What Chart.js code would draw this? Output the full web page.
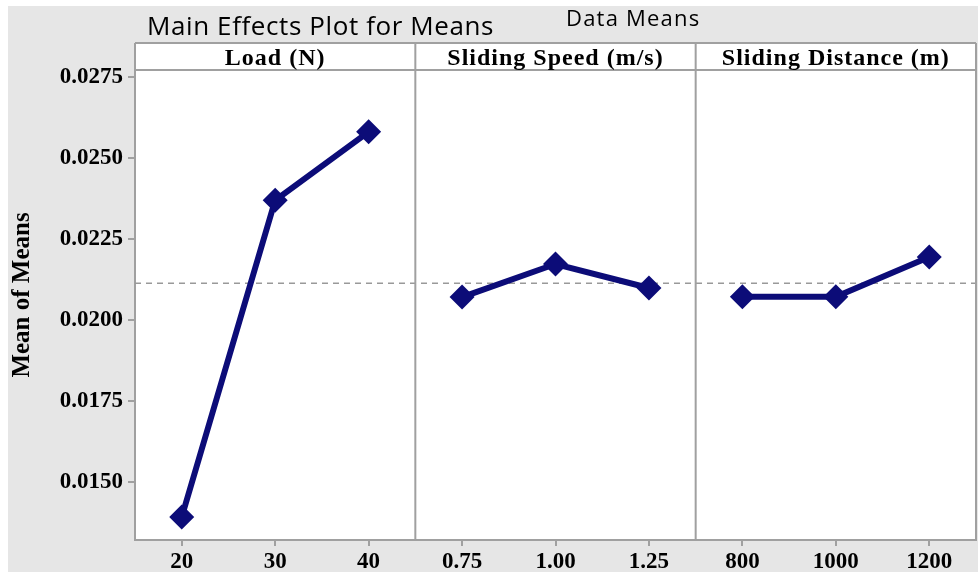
<!DOCTYPE html>
<html>
<head>
<meta charset="utf-8">
<script src="https://cdn.jsdelivr.net/npm/chart.js@4.4.0/dist/chart.umd.min.js"></script>
<style>
    html, body { margin: 0; padding: 0; background: #fff; }
    #graphe-container { width: 978px; height: 572px; }
</style>
</head>
<body>
<div id="graphe-container"><canvas id="graphMoyennes"></canvas></div>
<script>
// valeurs
var facteurs = ['Load (N)', 'Sliding Speed (m/s)', 'Sliding Distance (m)'];
var niveauxLoad = ['20', '30', '40'];
var niveauxVitesse = ['0.75', '1.00', '1.25'];
var niveauxDistance = ['800', '1000', '1200'];
var moyennesLoad = [0.01392, 0.02370, 0.02581];
var moyennesVitesse = [0.02071, 0.02173, 0.02099];
var moyennesDistance = [0.02072, 0.02072, 0.02195];
var ticksY = [0.0150, 0.0175, 0.0200, 0.0225, 0.0250, 0.0275];

var marine = '#0c0c78';
var gris = '#a0a0a0';
var fond = '#e6e6e6';
var serif = '"Liberation Serif", "Times New Roman", serif';
var sans = '"Open Sans", "Noto Sans", sans-serif';

var labelsX = niveauxLoad.concat(niveauxVitesse, niveauxDistance);

var toutes = moyennesLoad.concat(moyennesVitesse, moyennesDistance);
var moyenneGlobale = 0;
for (let i = 0; i < toutes.length; i++) {
    moyenneGlobale += toutes[i];
}
moyenneGlobale = moyenneGlobale / toutes.length;

var versPoints = function (niveaux, valeurs) {
    var pts = [];
    for (let i = 0; i < niveaux.length; i++) {
        pts.push({x: niveaux[i], y: valeurs[i]});
    }
    return pts;
};

var serie = function (niveaux, valeurs) {
    return {
        data: versPoints(niveaux, valeurs),
        borderColor: marine,
        backgroundColor: marine,
        borderWidth: 6,
        pointStyle: 'rectRot',
        pointRadius: 12.5,
        pointHoverRadius: 12.5,
        pointBorderWidth: 0,
        pointBackgroundColor: marine,
        fill: false,
        tension: 0,
        clip: false
    };
};

// fond, cadre, ligne de moyenne et bandeau des facteurs
var cadre = {
    id: 'cadre',
    beforeDraw: function (chart) {
        var ctx = chart.ctx;
        var a = chart.chartArea;
        ctx.save();
        ctx.fillStyle = '#fff';
        ctx.fillRect(0, 0, chart.width, chart.height);
        ctx.fillStyle = fond;
        ctx.fillRect(8, 6, chart.width - 8, chart.height - 6);
        ctx.fillStyle = '#fff';
        ctx.fillRect(a.left, 43, a.right - a.left, a.bottom - 43);
        ctx.restore();
    },
    beforeDatasetsDraw: function (chart) {
        var ctx = chart.ctx;
        var a = chart.chartArea;
        var sx = chart.scales.x;
        var y = chart.scales.y.getPixelForValue(moyenneGlobale);
        ctx.save();
        ctx.strokeStyle = '#999';
        ctx.lineWidth = 1.5;
        ctx.setLineDash([6, 5]);
        ctx.beginPath();
        ctx.moveTo(a.left, y);
        ctx.lineTo(a.right, y);
        ctx.stroke();
        ctx.setLineDash([]);
        ctx.strokeStyle = gris;
        ctx.lineWidth = 2;
        ctx.beginPath();
        for (let k = 1; k < facteurs.length; k++) {
            var xs = (sx.getPixelForTick(3 * k - 1) + sx.getPixelForTick(3 * k)) / 2;
            ctx.moveTo(xs, 43);
            ctx.lineTo(xs, a.bottom);
        }
        ctx.moveTo(a.left, 43);
        ctx.lineTo(a.right, 43);
        ctx.moveTo(a.left, a.top);
        ctx.lineTo(a.right, a.top);
        ctx.moveTo(a.right, 43);
        ctx.lineTo(a.right, a.bottom);
        ctx.moveTo(a.left, 43);
        ctx.lineTo(a.left, a.top);
        ctx.stroke();
        ctx.restore();
    },
    afterDraw: function (chart) {
        var ctx = chart.ctx;
        var sx = chart.scales.x;
        ctx.save();
        ctx.fillStyle = '#000';
        ctx.textBaseline = 'alphabetic';
        ctx.textAlign = 'center';
        ctx.font = 'bold 24px ' + serif;
        ctx.letterSpacing = '1px';
        for (let k = 0; k < facteurs.length; k++) {
            var xc = sx.getPixelForTick(3 * k + 1);
            ctx.fillText(facteurs[k], xc, 65);
        }
        ctx.letterSpacing = '0px';
        // titre de l'axe Y
        ctx.save();
        ctx.translate(29, 295);
        ctx.rotate(-Math.PI / 2);
        ctx.font = 'bold 25px ' + serif;
        ctx.fillText('Mean of Means', 0, 0);
        ctx.restore();
        ctx.textAlign = 'left';
        ctx.letterSpacing = '0.6px';
        ctx.font = '26px ' + sans;
        ctx.fillText('Main Effects Plot for Means', 147, 35);
        ctx.letterSpacing = '1.2px';
        ctx.font = '22px ' + sans;
        ctx.fillText('Data Means', 566, 26);
        ctx.restore();
    }
};

new Chart(document.getElementById('graphMoyennes').getContext('2d'), {
    type: 'line',
    data: {
        labels: labelsX,
        datasets: [
            serie(niveauxLoad, moyennesLoad),
            serie(niveauxVitesse, moyennesVitesse),
            serie(niveauxDistance, moyennesDistance)
        ]
    },
    options: {
        responsive: true,
        maintainAspectRatio: false,
        animation: false,
        events: [],
        layout: {autoPadding: false, padding: {top: 70, right: 2, left: 0, bottom: 0}},
        plugins: {
            legend: {display: false},
            tooltip: {enabled: false},
            title: {display: false}
        },
        scales: {
            x: {
                type: 'category',
                offset: true,
                grid: {display: true, drawOnChartArea: false, offset: false, tickLength: 6, color: gris, lineWidth: 2},
                border: {color: gris, width: 2},
                ticks: {color: '#000', font: {family: serif, size: 23, weight: 'bold'}, padding: 2, maxRotation: 0, autoSkip: false},
                afterFit: function (s) { s.height = 32; }
            },
            y: {
                min: 0.01321,
                max: 0.02772,
                afterBuildTicks: function (s) {
                    s.ticks = ticksY.map(function (v) { return {value: v}; });
                },
                grid: {display: true, drawOnChartArea: false, tickLength: 7, color: gris, lineWidth: 2},
                border: {color: gris, width: 2},
                ticks: {
                    color: '#000',
                    font: {family: serif, size: 23, weight: 'bold'},
                    padding: 5,
                    callback: function (v) { return v.toFixed(4); }
                },
                afterFit: function (s) { s.width = 135; }
            }
        }
    },
    plugins: [cadre]
});
</script>
</body>
</html>
